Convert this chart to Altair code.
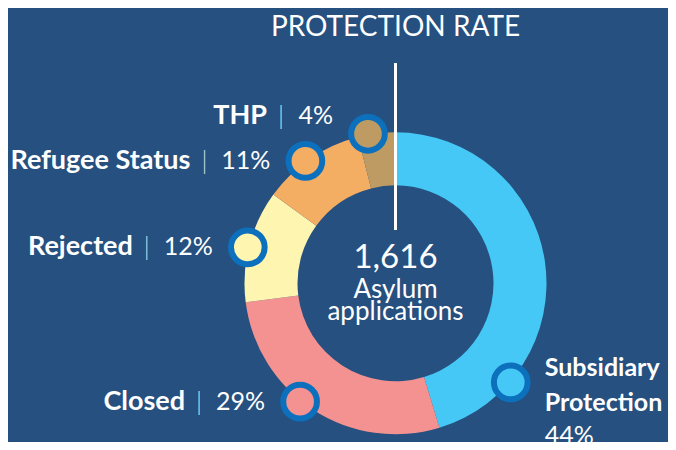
import altair as alt
import pandas as pd

# ---- data ----
categories = ["Subsidiary Protection", "Closed", "Rejected", "Refugee Status", "THP"]
shares = [45.3, 27.7, 12.0, 11.0, 4.0]          # arc sizes (share of ring, %)
share_labels = ["44%", "29%", "12%", "11%", "4%"]
marker_at = [36.3, 60.8, 78.8, 89.9, 97.1]      # where each marker sits along the ring (% of turn)
total_label = "1,616"
caption = "Asylum applications"
title_text = "PROTECTION RATE"

colors = ["#45C8F5", "#F49191", "#FEF5B0", "#F4AE64", "#BD9B62"]

# ---- style / layout ----
BG = "#25507F"
MARK_STROKE = "#0C70BD"
FONT = "Lato"
NAME_SIZE = 27
SUB_SIZE = 25
PCT_SIZE = 25
CX, CY = 387.5, 275.3
R_OUT, R_IN, R_MARK = 151, 98, 152
label_nudge = {"THP": -18}

df = pd.DataFrame({
    "category": categories,
    "share": shares,
    "pct": share_labels,
    "pos": marker_at,
    "idx": list(range(len(categories))),
})

color_scale = alt.Scale(domain=categories, range=colors)

arcs = alt.Chart(df).mark_arc(outerRadius=R_OUT, innerRadius=R_IN).encode(
    theta=alt.Theta("share:Q", stack=True, scale=alt.Scale(domain=[0, 100])),
    color=alt.Color("category:N", scale=color_scale, legend=None),
    order=alt.Order("idx:Q"),
    x=alt.value(CX),
    y=alt.value(CY),
)

nudge_expr = " : ".join(
    [f"datum.category == '{k}' ? {v}" for k, v in label_nudge.items()] + ["0"]
)

pos = alt.Chart(df).transform_calculate(
    mx=f"{CX} + {R_MARK}*sin(2*PI*datum.pos/100)",
    my=f"{CY} - {R_MARK}*cos(2*PI*datum.pos/100)",
).transform_calculate(
    ly=f"datum.my + ({nudge_expr})",
    pct_right="datum.mx - 35",
    pct_left="datum.mx - 35 - (14*(length(datum.pct)-1) + 23)",
).transform_calculate(
    bar_x="datum.pct_left - 15",
    name_right="datum.pct_left - 29",
)

markers = pos.mark_point(
    shape="circle", filled=True, size=1134, stroke=MARK_STROKE, strokeWidth=6, opacity=1
).encode(
    x=alt.X("mx:Q", scale=None, axis=None),
    y=alt.Y("my:Q", scale=None, axis=None),
    fill=alt.Fill("category:N", scale=color_scale, legend=None),
)

left = pos.transform_filter("datum.category != 'Subsidiary Protection'")

pct_text = left.mark_text(
    font=FONT, fontSize=PCT_SIZE, color="white", align="right", baseline="middle"
).encode(
    x=alt.X("pct_right:Q", scale=None, axis=None),
    y=alt.Y("ly:Q", scale=None, axis=None),
    text="pct:N",
)

bar_text = left.transform_calculate(bar="'|'").mark_text(
    font=FONT, fontSize=PCT_SIZE, fontWeight=300, color="#D5DDE8", align="center", baseline="middle"
).encode(
    x=alt.X("bar_x:Q", scale=None, axis=None),
    y=alt.Y("ly:Q", scale=None, axis=None),
    text="bar:N",
)

name_text = left.mark_text(
    font=FONT, fontSize=NAME_SIZE, fontWeight="bold", color="white", align="right", baseline="middle"
).encode(
    x=alt.X("name_right:Q", scale=None, axis=None),
    y=alt.Y("ly:Q", scale=None, axis=None),
    text="category:N",
)

right = pos.transform_filter("datum.category == 'Subsidiary Protection'").transform_calculate(
    rx="datum.mx + 34",
    ry="datum.my - 6",
    ry2="datum.my + 62",
)

sub_name = right.mark_text(
    font=FONT, fontSize=SUB_SIZE, fontWeight="bold", color="white", align="left",
    baseline="alphabetic", lineBreak=" ", lineHeight=35,
).encode(
    x=alt.X("rx:Q", scale=None, axis=None),
    y=alt.Y("ry:Q", scale=None, axis=None),
    text="category:N",
)

sub_pct = right.mark_text(
    font=FONT, fontSize=PCT_SIZE, color="white", align="left", baseline="alphabetic"
).encode(
    x=alt.X("rx:Q", scale=None, axis=None),
    y=alt.Y("ry2:Q", scale=None, axis=None),
    text="pct:N",
)

one = pd.DataFrame({"total": [total_label], "caption": [caption], "title": [title_text]})

rule = alt.Chart(one).mark_rule(color="white", strokeWidth=3).encode(
    x=alt.value(CX), y=alt.value(55), y2=alt.value(222)
)

total_text = alt.Chart(one).mark_text(
    font=FONT, fontSize=33, color="white", align="center", baseline="alphabetic"
).encode(x=alt.value(CX), y=alt.value(260), text="total:N")

caption_text = alt.Chart(one).mark_text(
    font=FONT, fontSize=26, color="white", align="center", baseline="alphabetic",
    lineBreak=" ", lineHeight=22,
).encode(x=alt.value(CX), y=alt.value(290), text="caption:N")

title_mark = alt.Chart(one).mark_text(
    font=FONT, fontSize=28, color="white", align="center", baseline="alphabetic"
).encode(x=alt.value(CX), y=alt.value(28), text="title:N")

chart = alt.layer(
    arcs, rule, markers, pct_text, bar_text, name_text, sub_name, sub_pct,
    total_text, caption_text, title_mark,
).properties(
    width=660, height=434,
    autosize=alt.AutoSizeParams(type="fit", contains="padding"),
    padding=0,
    background=BG,
).configure_view(stroke=None)

chart.save("out.html", embed_options={"renderer": "svg", "actions": False})
